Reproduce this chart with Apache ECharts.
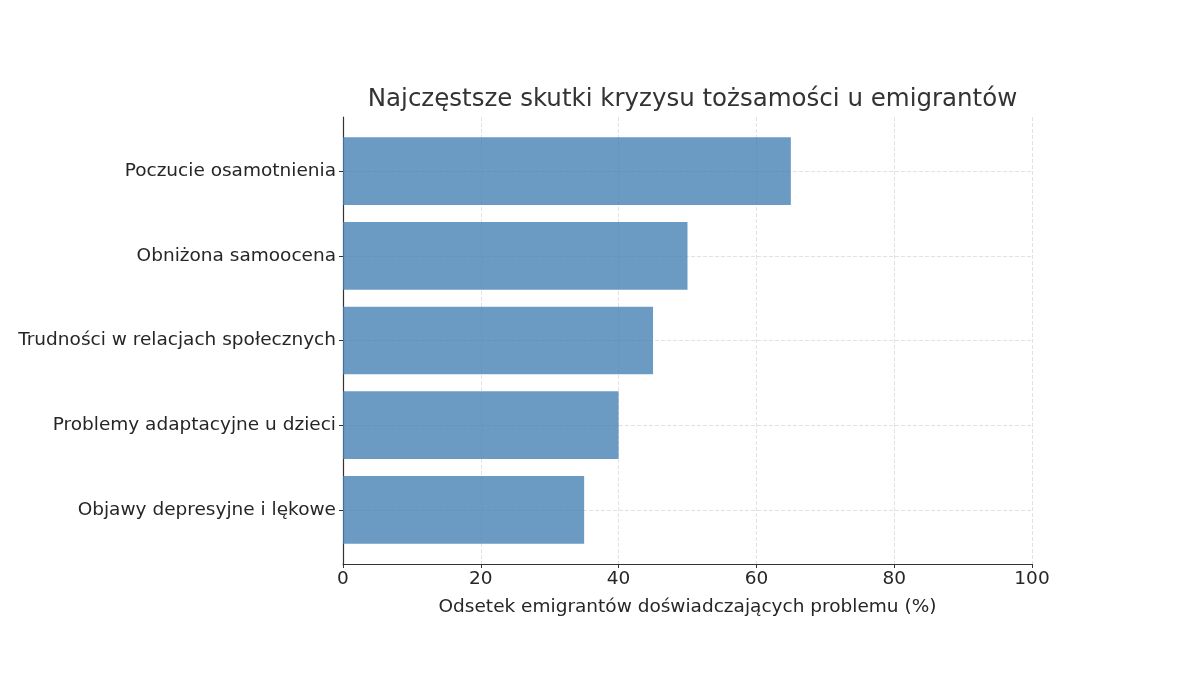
<!DOCTYPE html>
<html>
<head>
<meta charset="utf-8">
<script src="https://cdn.jsdelivr.net/npm/echarts@6/dist/echarts.min.js"></script>
<style>
html,body{margin:0;padding:0;background:#fff;}
#chart{width:1200px;height:675px;}
</style>
</head>
<body>
<div id="chart"></div>
<script>
const titleText = 'Najczęstsze skutki kryzysu tożsamości u emigrantów';
const xAxisName = 'Odsetek emigrantów doświadczających problemu (%)';
const categories = [
  'Poczucie osamotnienia',
  'Obniżona samoocena',
  'Trudności w relacjach społecznych',
  'Problemy adaptacyjne u dzieci',
  'Objawy depresyjne i lękowe'
];
const values = [65, 50, 45, 40, 35];
const xTicks = [0, 20, 40, 60, 80, 100];

const FONT = 'DejaVu Sans';
const TXT = '#262626';
const chart = echarts.init(document.getElementById('chart'), null, {renderer: 'canvas'});

const plotTop = 117, plotBottom = 564, plotLeft = 343, plotRight = 1032;
const yMin = -0.64, yMax = categories.length - 1 + 0.64;
const unit = (plotBottom - plotTop) / (yMax - yMin);
const inner = (-0.5 - yMin) * unit;
const gridLine = {color: '#e2e2e2', type: [4, 2], width: 1};

chart.setOption({
  backgroundColor: '#ffffff',
  animation: false,
  title: {
    text: titleText,
    left: (plotLeft + plotRight) / 2,
    textAlign: 'center',
    top: 82,
    textStyle: {fontFamily: FONT, fontSize: 24.5, fontWeight: 'normal', color: '#333333'}
  },
  grid: [
    {left: plotLeft, right: 1200 - plotRight, top: plotTop, bottom: 675 - plotBottom},
    {left: plotLeft, right: 1200 - plotRight, top: plotTop + inner, bottom: 675 - plotBottom + inner}
  ],
  xAxis: [
    {
      gridIndex: 0, type: 'value', min: xTicks[0], max: xTicks[xTicks.length - 1], interval: 20,
      name: xAxisName, nameLocation: 'middle', nameGap: 34,
      nameTextStyle: {fontFamily: FONT, fontSize: 18.5, color: TXT},
      axisLine: {show: true, onZero: false, lineStyle: {color: '#333', width: 1.2}},
      axisTick: {show: true, length: 4, lineStyle: {color: '#333'}},
      axisLabel: {fontFamily: FONT, fontSize: 18.5, color: TXT, margin: 6},
      splitLine: {show: true, lineStyle: gridLine}
    },
    {
      gridIndex: 1, type: 'value', min: 0, max: 100,
      show: false
    }
  ],
  yAxis: [
    {
      gridIndex: 0, type: 'value', inverse: true, min: yMin, max: yMax,
      axisLine: {show: true, onZero: false, lineStyle: {color: '#333', width: 1.2}},
      axisTick: {show: false},
      axisLabel: {show: false},
      splitLine: {show: true, showMinLine: false, showMaxLine: false, lineStyle: gridLine}
    },
    {
      gridIndex: 1, type: 'category', inverse: true, data: categories,
      axisLine: {show: false},
      axisTick: {show: true, alignWithLabel: true, length: 4, lineStyle: {color: '#333'}},
      axisLabel: {fontFamily: FONT, fontSize: 18.5, color: TXT, margin: 7},
      splitLine: {show: false}
    }
  ],
  series: [{
    type: 'bar',
    xAxisIndex: 1, yAxisIndex: 1,
    data: values,
    barCategoryGap: '20%',
    itemStyle: {color: '#4682b4', opacity: 0.8},
    z: 1
  }]
});
</script>
</body>
</html>
